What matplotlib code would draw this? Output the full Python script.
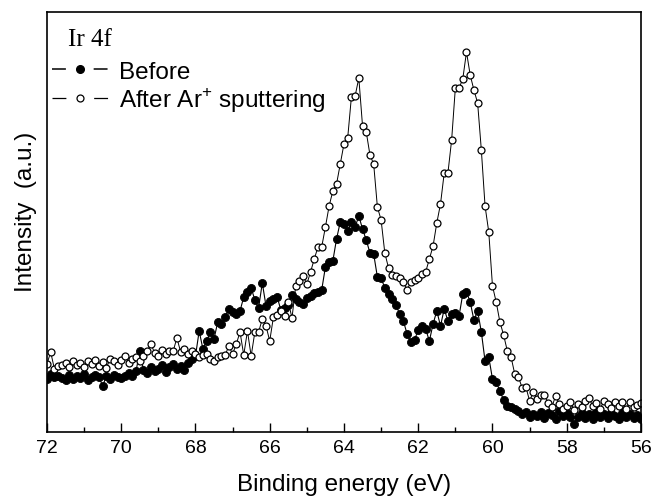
import numpy as np
import matplotlib
matplotlib.use("Agg")
import matplotlib.pyplot as plt
from matplotlib.lines import Line2D

plt.rcParams["font.family"] = ["Liberation Sans", "DejaVu Sans"]
plt.rcParams["mathtext.fontset"] = "custom"
plt.rcParams["mathtext.rm"] = "Liberation Sans"
plt.rcParams["lines.scale_dashes"] = False

# binding energy grid, 0.1 eV step from 72 down to 56 eV
energy = np.linspace(72, 56, 161)

# Ir 4f intensity before sputtering (a.u.)
before = [
    53, 58, 55, 56, 54, 52, 57, 53, 56, 54,
    58, 52, 55, 57, 55, 46, 56, 53, 57, 55,
    54, 56, 59, 56, 61, 81, 62, 59, 65, 61,
    63, 67, 60, 65, 68, 63, 66, 62, 69, 73,
    76, 101, 83, 91, 100, 93, 110, 108, 115, 123,
    120, 118, 121, 135, 140, 144, 132, 124, 149, 126,
    131, 133, 135, 122, 124, 127, 137, 133, 130, 128,
    134, 136, 139, 140, 142, 165, 170, 171, 193, 210,
    208, 201, 210, 205, 216, 203, 192, 179, 178, 155,
    154, 144, 138, 133, 127, 118, 111, 98, 90, 92,
    102, 106, 103, 91, 108, 121, 106, 123, 111, 118,
    119, 116, 138, 140, 130, 112, 121, 100, 71, 75,
    53, 50, 41, 32, 26, 25, 23, 21, 18, 20,
    15, 18, 16, 20, 14, 19, 17, 13, 21, 16,
    19, 15, 8, 15, 19, 14, 18, 13, 20, 15,
    18, 14, 19, 16, 13, 19, 15, 18, 14, 17, 13,
]

# Ir 4f intensity after Ar+ sputtering
after = [
    68, 80, 63, 66, 67, 69, 65, 71, 67, 69,
    65, 71, 68, 72, 66, 70, 64, 73, 71, 67,
    72, 76, 69, 73, 75, 71, 76, 81, 88, 79,
    76, 82, 78, 81, 81, 94, 80, 83, 78, 81,
    78, 75, 77, 78, 73, 71, 75, 76, 77, 86,
    78, 88, 100, 77, 101, 76, 100, 100, 113, 106,
    91, 115, 117, 121, 116, 130, 114, 146, 151, 156,
    148, 160, 173, 185, 185, 205, 226, 241, 248, 268,
    288, 294, 335, 336, 354, 306, 300, 277, 268, 225,
    212, 179, 164, 157, 156, 154, 150, 142, 150, 152,
    154, 158, 160, 173, 186, 209, 228, 259, 259, 292,
    344, 344, 353, 380, 357, 342, 329, 282, 226, 200,
    146, 130, 110, 97, 81, 75, 58, 55, 44, 45,
    31, 40, 33, 37, 37, 29, 25, 36, 28, 23,
    26, 30, 22, 28, 25, 31, 34, 26, 29, 23,
    31, 28, 24, 30, 26, 30, 23, 30, 25, 27, 29,
]

fig = plt.figure(figsize=(6.56, 5.02), dpi=100)
ax = fig.add_axes([0.0716, 0.1375, 0.9055, 0.8366])

ax.plot(energy, before, "-", color="black", lw=0.8, marker="o", ms=5.8,
        mfc="black", mec="black", mew=0.6)
ax.plot(energy, after, "-", color="black", lw=0.7, marker="o", ms=5.0,
        mfc="white", mec="black", mew=0.9)

ax.set_xlim(72, 56)
ax.set_ylim(0, 420)
ax.set_xticks(np.arange(72, 55, -2))
ax.set_xticks(np.arange(72, 55, -1), minor=True)
ax.set_yticks([])
ax.tick_params(axis="x", which="major", direction="in", length=6.5, width=1,
               labelsize=14, pad=5)
ax.tick_params(axis="x", which="minor", direction="in", length=3.5, width=1)
for s in ax.spines.values():
    s.set_linewidth(1.2)

ax.set_xlabel("Binding energy (eV)", fontsize=17.5, labelpad=12)
ax.set_ylabel("Intensity  (a.u.)", fontsize=17.5)
ax.yaxis.set_label_coords(-0.017, 0.526)

ax.text(0.036, 0.935, "Ir 4f", transform=ax.transAxes, fontsize=18,
        family="Liberation Serif", va="center", ha="left")

# legend handles: dash - marker - dash
h_before = Line2D([], [], color="black", lw=1.1, dashes=(10, 20),
                  marker="o", ms=5.5, mfc="black", mec="black")
h_after = Line2D([], [], color="black", lw=0.9, dashes=(10, 20),
                 marker="o", ms=5.0, mfc="white", mec="black", mew=0.9)
ax.legend([h_before, h_after], ["Before", "After Ar$^{+}$ sputtering"],
          loc="upper left", bbox_to_anchor=(0.0, 0.895), frameon=False,
          fontsize=17.5, handlelength=2.3, handletextpad=0.45,
          labelspacing=0.08, borderaxespad=0.0, borderpad=0.2)

fig.savefig("out.png", dpi=100)
